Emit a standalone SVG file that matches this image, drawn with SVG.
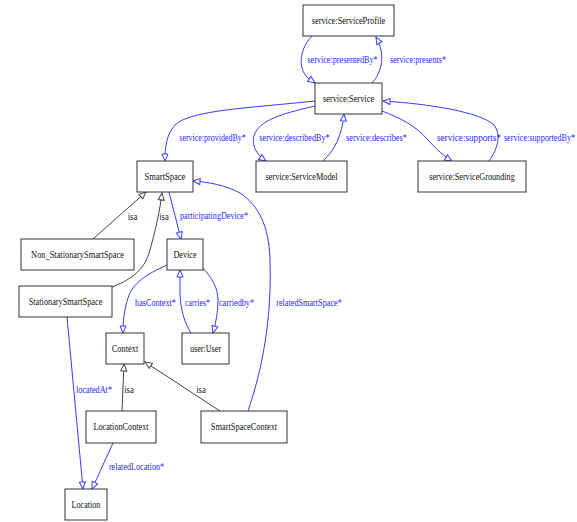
<svg xmlns="http://www.w3.org/2000/svg" width="577" height="522" viewBox="0 0 577 522">
<style>
.n rect{fill:#fff;stroke:#333;stroke-width:1}
.n text{font-family:"Liberation Serif",serif;font-size:10.5px;fill:#111;text-anchor:middle}
.e path{fill:none;stroke-width:1}
.b{stroke:#3a3aff}
.k{stroke:#444}
.lb{font-family:"Liberation Serif",serif;font-size:10.5px;fill:#2828ff;text-anchor:middle}
.lk{font-family:"Liberation Serif",serif;font-size:10.5px;fill:#222;text-anchor:middle}
</style>
<defs>
<marker id="ab" markerUnits="userSpaceOnUse" markerWidth="9" markerHeight="8" refX="7.5" refY="3.5" orient="auto" overflow="visible">
<path d="M0.5,0.5 L7.5,3.5 L0.5,6.5 Z" fill="#fff" stroke="#3a3aff" stroke-width="1"/>
</marker>
<marker id="ak" markerUnits="userSpaceOnUse" markerWidth="9" markerHeight="8" refX="7.5" refY="3.5" orient="auto" overflow="visible">
<path d="M0.5,0.5 L7.5,3.5 L0.5,6.5 Z" fill="#fff" stroke="#444" stroke-width="1"/>
</marker>
</defs>
<rect width="577" height="522" fill="#fff"/>
<g id="connectors" class="e">
<path class="b" marker-end="url(#ab)" d="M312,36 C300,48 297,68 308,78 L315,83"/>
<path class="b" marker-end="url(#ab)" d="M372,83 C382,72 386,55 376,37"/>
<path class="b" marker-end="url(#ab)" d="M315,101 C250,108 190,110 175,125 C166,135 165,148 165,161"/>
<path class="b" marker-end="url(#ab)" d="M315,106 C290,112 262,118 255,133 C250,145 257,155 266,161"/>
<path class="b" marker-end="url(#ab)" d="M323,161 C335,150 342,135 344,114"/>
<path class="b" marker-end="url(#ab)" d="M382,111 C400,118 415,125 428,140 C437,150 445,157 452,161"/>
<path class="b" marker-end="url(#ab)" d="M489,161 C497,150 502,135 494,125 C480,112 430,104 383,101"/>
<path class="k" marker-end="url(#ak)" d="M93,239 L146,192"/>
<path class="k" marker-end="url(#ak)" d="M112,287 C135,278 145,268 150,250 C155,232 160,210 162,193"/>
<path class="b" marker-end="url(#ab)" d="M169,192 L181,239"/>
<path class="b" marker-end="url(#ab)" d="M167,265 C145,275 133,283 128,298 C124,310 123,322 123,333"/>
<path class="b" marker-end="url(#ab)" d="M191,333 C184,322 181,310 180,295 C180,285 180,278 180,270"/>
<path class="b" marker-end="url(#ab)" d="M203,268 C212,278 218,288 218,300 C218,312 216,322 213,333"/>
<path class="b" marker-end="url(#ab)" d="M248,411 C262,370 272,320 270,260 C269,225 258,205 240,193 C225,185 208,182 193,181"/>
<path class="b" marker-end="url(#ab)" d="M67,317 L83,489"/>
<path class="k" marker-end="url(#ak)" d="M122,411 L124,364"/>
<path class="k" marker-end="url(#ak)" d="M220,411 L145,362"/>
<path class="b" marker-end="url(#ab)" d="M113,443 L92,489"/>
</g>
<g id="edge-labels">
<text class="lb" transform="translate(342.5,63) scale(0.8,1)" textLength="88" lengthAdjust="spacingAndGlyphs">service:presentedBy*</text>
<text class="lb" transform="translate(418,63) scale(0.8,1)" textLength="70" lengthAdjust="spacingAndGlyphs">service:presents*</text>
<text class="lb" transform="translate(212.5,141) scale(0.8,1)" textLength="83" lengthAdjust="spacingAndGlyphs">service:providedBy*</text>
<text class="lb" transform="translate(294.5,141) scale(0.8,1)" textLength="88" lengthAdjust="spacingAndGlyphs">service:describedBy*</text>
<text class="lb" transform="translate(376.5,141) scale(0.8,1)" textLength="76" lengthAdjust="spacingAndGlyphs">service:describes*</text>
<text class="lb" transform="translate(469,141) scale(0.8,1)" textLength="80" lengthAdjust="spacingAndGlyphs">service:supports*</text>
<text class="lb" transform="translate(539.5,141) scale(0.8,1)" textLength="89" lengthAdjust="spacingAndGlyphs">service:supportedBy*</text>
<text class="lk" transform="translate(132.5,220) scale(0.8,1)" textLength="12" lengthAdjust="spacingAndGlyphs">isa</text>
<text class="lk" transform="translate(164,220) scale(0.8,1)" textLength="12" lengthAdjust="spacingAndGlyphs">isa</text>
<text class="lb" transform="translate(214,219) scale(0.8,1)" textLength="85" lengthAdjust="spacingAndGlyphs">participatingDevice*</text>
<text class="lb" transform="translate(155.5,306) scale(0.8,1)" textLength="51" lengthAdjust="spacingAndGlyphs">hasContext*</text>
<text class="lb" transform="translate(197.5,306) scale(0.8,1)" textLength="31" lengthAdjust="spacingAndGlyphs">carries*</text>
<text class="lb" transform="translate(236.5,306) scale(0.8,1)" textLength="44" lengthAdjust="spacingAndGlyphs">carriedby*</text>
<text class="lb" transform="translate(309,306) scale(0.8,1)" textLength="82" lengthAdjust="spacingAndGlyphs">relatedSmartSpace*</text>
<text class="lb" transform="translate(94,393) scale(0.8,1)" textLength="45" lengthAdjust="spacingAndGlyphs">locatedAt*</text>
<text class="lk" transform="translate(129,393) scale(0.8,1)" textLength="12" lengthAdjust="spacingAndGlyphs">isa</text>
<text class="lk" transform="translate(201,393) scale(0.8,1)" textLength="12" lengthAdjust="spacingAndGlyphs">isa</text>
<text class="lb" transform="translate(136.5,470) scale(0.8,1)" textLength="69" lengthAdjust="spacingAndGlyphs">relatedLocation*</text>
</g>
<g id="n-serviceprofile" class="n"><rect x="303" y="5" width="91" height="31"/><text transform="translate(348.5,24) scale(0.8,1)" textLength="92" lengthAdjust="spacingAndGlyphs">service:ServiceProfile</text></g>
<g id="n-service" class="n"><rect x="315" y="83" width="67" height="31"/><text transform="translate(348.5,102) scale(0.8,1)" textLength="64" lengthAdjust="spacingAndGlyphs">service:Service</text></g>
<g id="n-smartspace" class="n"><rect x="137" y="161" width="56" height="31"/><text transform="translate(165,180) scale(0.8,1)" textLength="51" lengthAdjust="spacingAndGlyphs">SmartSpace</text></g>
<g id="n-servicemodel" class="n"><rect x="256" y="161" width="91" height="31"/><text transform="translate(301.5,180) scale(0.8,1)" textLength="90" lengthAdjust="spacingAndGlyphs">service:ServiceModel</text></g>
<g id="n-servicegrounding" class="n"><rect x="418" y="161" width="108" height="31"/><text transform="translate(472,180) scale(0.8,1)" textLength="107" lengthAdjust="spacingAndGlyphs">service:ServiceGrounding</text></g>
<g id="n-nonstationary" class="n"><rect x="21" y="239" width="113" height="31"/><text transform="translate(77.5,258) scale(0.8,1)" textLength="116" lengthAdjust="spacingAndGlyphs">Non_StationarySmartSpace</text></g>
<g id="n-device" class="n"><rect x="167" y="239" width="36" height="31"/><text transform="translate(185,258) scale(0.8,1)" textLength="29" lengthAdjust="spacingAndGlyphs">Device</text></g>
<g id="n-stationary" class="n"><rect x="19" y="286" width="93" height="31"/><text transform="translate(65.5,305) scale(0.8,1)" textLength="92" lengthAdjust="spacingAndGlyphs">StationarySmartSpace</text></g>
<g id="n-context" class="n"><rect x="106" y="333" width="38" height="31"/><text transform="translate(125,352) scale(0.8,1)" textLength="33" lengthAdjust="spacingAndGlyphs">Context</text></g>
<g id="n-user" class="n"><rect x="182" y="333" width="47" height="31"/><text transform="translate(205.5,352) scale(0.8,1)" textLength="39" lengthAdjust="spacingAndGlyphs">user:User</text></g>
<g id="n-locationcontext" class="n"><rect x="86" y="411" width="70" height="32"/><text transform="translate(121,430) scale(0.8,1)" textLength="69" lengthAdjust="spacingAndGlyphs">LocationContext</text></g>
<g id="n-smartspacecontext" class="n"><rect x="201" y="411" width="86" height="32"/><text transform="translate(244,430) scale(0.8,1)" textLength="83" lengthAdjust="spacingAndGlyphs">SmartSpaceContext</text></g>
<g id="n-location" class="n"><rect x="65" y="489" width="42" height="31"/><text transform="translate(86,508) scale(0.8,1)" textLength="36" lengthAdjust="spacingAndGlyphs">Location</text></g>
</svg>
